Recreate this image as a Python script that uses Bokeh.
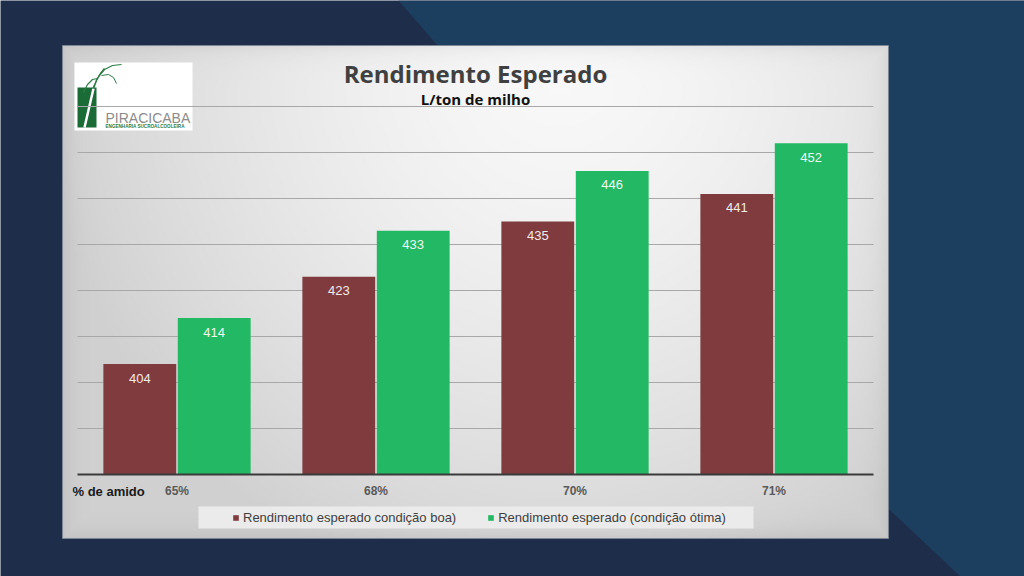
import numpy as np
from bokeh.plotting import figure
from bokeh.models import Range1d, ColumnDataSource, Legend, LegendItem
from bokeh.core.properties import value
from bokeh.embed import file_html
from bokeh.resources import INLINE

# ---------------- data ----------------
categories = ["65%", "68%", "70%", "71%"]
boa = [404, 423, 435, 441]
otima = [414, 433, 446, 452]
series_names = ["Rendimento esperado condição boa)", "Rendimento esperado (condição ótima)"]
grid_ticks = [390, 400, 410, 420, 430, 440, 450, 460]
y_min, y_max = 380, 460
title_text = "Rendimento Esperado"
subtitle_text = "L/ton de milho"
axis_title = "% de amido"
logo_name = "PIRACICABA"
logo_sub = "ENGENHARIA SUCROALCOOLEIRA"

# ---------------- layout (screen pixels of the page) ----------------
W, H = 1024, 576
M = 0
PL, PR, PT, PB = 77, 873, 106, 474          # plot area
PANEL = (62, 888, 45, 538)                    # panel left, right, top, bottom


def Y(ys):
    return 2 * M + H - ys


n = len(categories)
unit = (PR - PL) / n
cx_start = -0.5 - (PL - M) / unit
cx_end = (n - 0.5) + (M + W - PR) / unit
ppu = (PB - PT) / (y_max - y_min)
vy_start = y_min - (M + H - PB) / ppu
vy_end = y_max + (PT - M) / ppu

DARK_BG = "#1e2d49"
LIGHT_BG = "#1d3f5f"
MAROON = "#7f3b3e"
GREEN = "#22b864"

p = figure(width=W, height=H, x_range=Range1d(M, M + W), y_range=Range1d(M, M + H),
           output_backend="svg", toolbar_location=None, x_axis_type=None, y_axis_type=None,
           min_border=0, outline_line_color=None, background_fill_color=DARK_BG,
           border_fill_color=DARK_BG)
p.extra_x_ranges = {"cx": Range1d(cx_start, cx_end)}
p.extra_y_ranges = {"vy": Range1d(vy_start, vy_end)}

# ---------------- slide background ----------------
lx = [398, 1024, 1024, 960, 622]
ly = [0, 0, 576, 576, 258]
p.patch(lx, [Y(v) for v in ly], fill_color=LIGHT_BG, line_color=None)

# ---------------- panel with gradient ----------------
pl, pr, pt, pb = PANEL
pw, ph = pr - pl, pb - pt
xs = np.arange(pw) + pl + 0.5
ys = pb - np.arange(ph) - 0.5
XX, YY = np.meshgrid(xs, ys)
d = np.sqrt(((XX - 560) / 520.0) ** 2 + ((YY - 50) / 560.0) ** 2)
v = 249 - 40 * np.clip(d, 0, 1) ** 1.5
edge = np.minimum.reduce([XX - pl, pr - XX, YY - pt, pb - YY])
v = v - 14 * np.exp(-edge / 10.0)
v = np.clip(v, 0, 255).astype(np.uint8)
img = np.empty((ph, pw), dtype=np.uint32)
view = img.view(dtype=np.uint8).reshape((ph, pw, 4))
view[..., 0] = v
view[..., 1] = v
view[..., 2] = v
view[..., 3] = 255
p.image_rgba(image=[img], x=pl, y=Y(pb), dw=pw, dh=ph)
p.quad(left=pl, right=pr, top=Y(pt), bottom=Y(pb), fill_color=None,
       line_color="#7d8694", line_width=1)

# ---------------- logo ----------------
p.quad(left=74, right=192, top=Y(62), bottom=Y(130), fill_color="#ffffff", line_color=None)
p.quad(left=77, right=96, top=Y(87), bottom=Y(127), fill_color="#1b6b37", line_color=None)
p.line([84, 87, 90, 93], [Y(127), Y(114), Y(101), Y(88)], line_color="#ffffff", line_width=2.5)
p.line([93, 96, 100, 104], [Y(88), Y(80), Y(73), Y(68)], line_color="#2e7d46", line_width=1.5)
p.line([98, 104, 112, 121], [Y(76), Y(69), Y(65), Y(64)], line_color="#2e7d46", line_width=1.2)
p.line([97, 92, 87, 83], [Y(78), Y(79), Y(84), Y(92)], line_color="#2e7d46", line_width=1.2)
p.line([99, 97, 95, 92], [Y(75), Y(77), Y(82), Y(88)], line_color="#2e7d46", line_width=1.0)
p.line([101, 108, 113, 116], [Y(75), Y(74), Y(77), Y(83)], line_color="#2e7d46", line_width=1.0)
p.text(x=[105], y=[Y(117)], text=[logo_name], text_font=value("Liberation Sans"),
       text_font_size="14px", text_color="#8c8c8c", text_align="left", text_baseline="middle")
p.text(x=[105], y=[Y(126)], text=[logo_sub], text_font=value("Liberation Sans"),
       text_font_size="4.6px", text_font_style="bold", text_color="#2a7a45",
       text_align="left", text_baseline="middle")

# ---------------- titles ----------------
p.text(x=[475], y=[Y(73)], text=[title_text], text_font=value("Open Sans"),
       text_font_size="24px", text_font_style="bold", text_color="#404040",
       text_align="center", text_baseline="middle")
p.text(x=[475], y=[Y(98)], text=[subtitle_text], text_font=value("Open Sans"),
       text_font_size="15px", text_font_style="bold", text_color="#111111",
       text_align="center", text_baseline="middle")

# ---------------- gridlines ----------------
p.segment(x0=-0.5, x1=n - 0.5, y0=grid_ticks, y1=grid_ticks, x_range_name="cx",
          y_range_name="vy", line_color="#a8a8a8", line_width=1)

# ---------------- bars ----------------
idx = np.arange(n)
off, bw = 0.187, 0.366
src_b = ColumnDataSource(dict(x=idx - off, top=boa, ly=[t - 14 / ppu for t in boa],
                              lbl=[str(t) for t in boa]))
src_o = ColumnDataSource(dict(x=idx + off, top=otima, ly=[t - 14 / ppu for t in otima],
                              lbl=[str(t) for t in otima]))
r1 = p.vbar(x="x", top="top", bottom=y_min, width=bw, source=src_b, x_range_name="cx",
            y_range_name="vy", fill_color=MAROON, line_color=None)
r2 = p.vbar(x="x", top="top", bottom=y_min, width=bw, source=src_o, x_range_name="cx",
            y_range_name="vy", fill_color=GREEN, line_color=None)
p.text(x="x", y="ly", text="lbl", source=src_b, x_range_name="cx", y_range_name="vy",
       text_font=value("Liberation Sans"), text_font_size="13px", text_color="#f3eaea",
       text_align="center", text_baseline="middle")
p.text(x="x", y="ly", text="lbl", source=src_o, x_range_name="cx", y_range_name="vy",
       text_font=value("Liberation Sans"), text_font_size="13px", text_color="#eef8f1",
       text_align="center", text_baseline="middle")

# baseline
p.segment(x0=[-0.5], x1=[n - 0.5], y0=[y_min], y1=[y_min], x_range_name="cx",
          y_range_name="vy", line_color="#3a3a3a", line_width=2)

# ---------------- category labels ----------------
p.text(x=list(idx), y=[Y(490)] * n, text=categories, x_range_name="cx",
       text_font=value("Liberation Sans"), text_font_size="12px", text_font_style="bold",
       text_color="#5a5a5a", text_align="center", text_baseline="middle")
p.text(x=[72], y=[Y(491)], text=[axis_title], text_font=value("Liberation Sans"),
       text_font_size="13px", text_font_style="bold", text_color="#1a1a1a",
       text_align="left", text_baseline="middle")

# ---------------- legend ----------------
p.quad(left=198, right=753, top=Y(506), bottom=Y(528), fill_color="#ebebeb", line_color=None)
legend = Legend(items=[LegendItem(label=series_names[0], renderers=[r1]),
                       LegendItem(label=series_names[1], renderers=[r2])],
                orientation="horizontal", location=(232 - M, (M + H) - 525),
                padding=0, margin=0, spacing=31, glyph_width=7, glyph_height=7,
                label_standoff=4, label_height=16, label_text_font="Liberation Sans",
                label_text_font_size="13px", label_text_color="#404040",
                background_fill_alpha=0, border_line_alpha=0)
p.add_layout(legend)

html = file_html(p, INLINE)
html = html.replace("<body>", '<body style="background:%s;">' % DARK_BG, 1)
open("out.html", "w").write(html)
